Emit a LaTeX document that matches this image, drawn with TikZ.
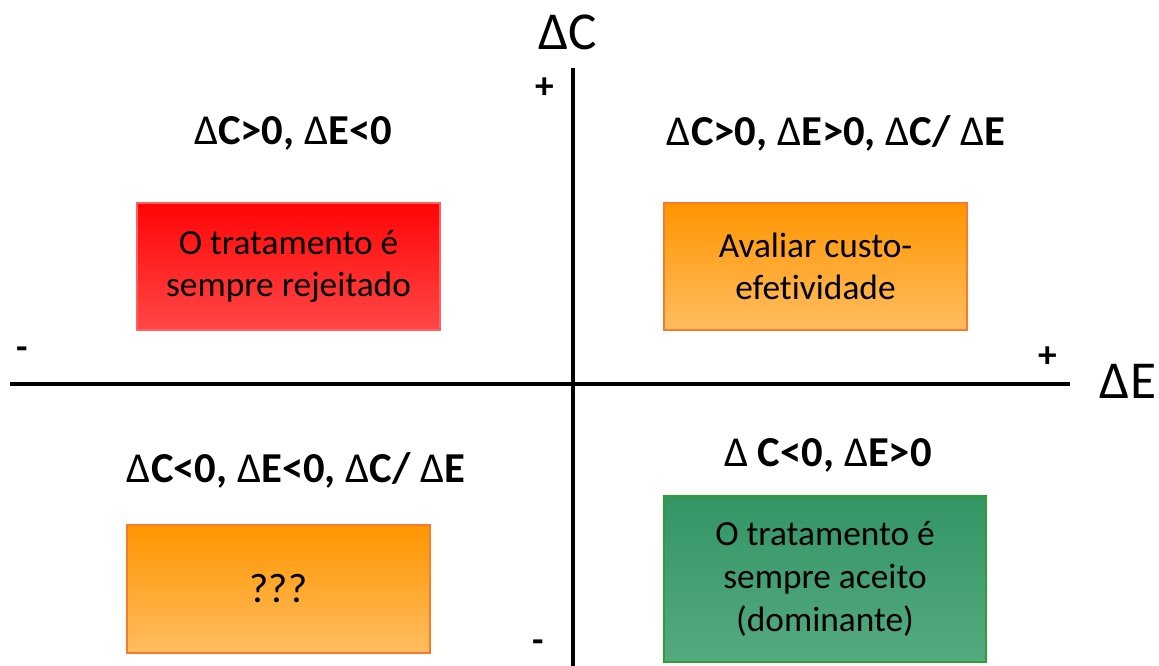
\documentclass[tikz,border=0pt]{standalone}
\usepackage{fontspec}
\setmainfont{Carlito}[Ligatures=NoCommon]
\newcommand{\dlt}{{\mdseries Δ}}

\definecolor{redtop}{HTML}{FF0505}
\definecolor{redbot}{HTML}{FF4747}
\definecolor{redline}{HTML}{FF6060}
\definecolor{orgtop}{HTML}{FF9500}
\definecolor{orgbot}{HTML}{FFBD60}
\definecolor{orgline}{HTML}{F87A2B}
\definecolor{grntop}{HTML}{339565}
\definecolor{grnbot}{HTML}{55AA80}
\definecolor{grnline}{HTML}{2E9E2E}

\tikzset{
	boxtext/.style={font=\fontsize{26.5}{32}\selectfont, align=center, text=black},
	head/.style={font=\fontsize{32}{38}\selectfont\bfseries},
	sign/.style={font=\fontsize{28}{32}\selectfont\bfseries},
	axlabel/.style={font=\fontsize{40}{48}\selectfont},
	redbox/.style={rectangle, draw=redline, line width=0.8pt, top color=redtop, bottom color=redbot, inner sep=0pt},
	orangebox/.style={rectangle, draw=orgline, line width=0.8pt, top color=orgtop, bottom color=orgbot, inner sep=0pt},
	greenbox/.style={rectangle, draw=grnline, line width=0.8pt, top color=grntop, bottom color=grnbot, inner sep=0pt}
}

\begin{document}
\begin{tikzpicture}[x=0.75pt,y=-0.75pt]
		\useasboundingbox (0,0) rectangle (1159,666);
		% axes
		\coordinate (xl) at (10,384);
		\coordinate (xr) at (1070,384);
		\coordinate (yt) at (573,68);
		\coordinate (yb) at (573,666);
		\draw[line width=2.3pt] (xl) -- (xr);
		\draw[line width=2.3pt] (yt) -- (yb);
		\node[axlabel] (dC) at (568,32) {Δ{}C};
		\node[axlabel] (dE) at (1128,381) {Δ{}E};
		\node[sign] (ptop) at (545,88) {+};
		\node[sign] (mbot) at (538,646) {-};
		\node[sign] (mleft) at (22,353) {-};
		\node[sign] (pright) at (1048,357) {+};
		
		% quadrant conditions
		\node[head] (qtl) at (293,133) {\dlt C>0, \dlt E<0};
		\node[head] (qtr) at (836,133) {\dlt C>0, \dlt E>0, \dlt C/ \dlt E};
		\node[head] (qbl) at (296,470) {\dlt C<0, \dlt E<0, \dlt C/ \dlt E};
		\node[head] (qbr) at (828,455) {\dlt\ C<0, \dlt E>0};
		
		% boxes
		\node[redbox, minimum width=227.25pt, minimum height=95.25pt] (rej) at (288.5,266.5) {};
		\node[boxtext] at (rej) {O tratamento é\\sempre rejeitado};
		\node[orangebox, minimum width=227.25pt, minimum height=95.25pt] (ce) at (815.5,266.5) {};
		\node[boxtext] at (ce) {Avaliar custo-\\efetividade};
		\node[orangebox, minimum width=227.25pt, minimum height=96pt] (unk) at (278.5,589) {};
		\node[boxtext, font=\fontsize{31}{36}\selectfont] at (unk) {???};
		\node[greenbox, minimum width=241.5pt, minimum height=124.5pt] (acc) at (825,579) {};
		\node[boxtext] at (acc) {O tratamento é\\sempre aceito\\(dominante)};
	\end{tikzpicture}
\end{document}
